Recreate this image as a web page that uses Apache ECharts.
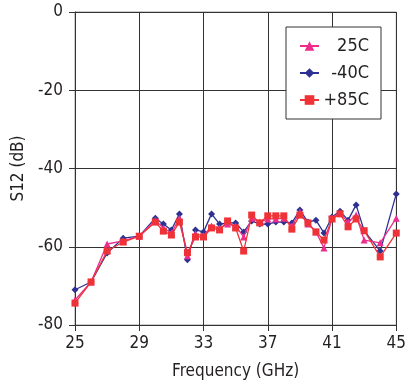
<!DOCTYPE html>
<html><head><meta charset="utf-8">
<script src="https://cdn.jsdelivr.net/npm/echarts@6/dist/echarts.min.js"></script>
<style>html,body{margin:0;padding:0;background:#fff}#c{width:409px;height:391px}</style>
</head><body><div id="c"></div>
<script>
const freq = [25,26,27,28,29,30,30.5,31,31.5,32,32.5,33,33.5,34,34.5,35,35.5,36,36.5,37,37.5,38,38.5,39,39.5,40,40.5,41,41.5,42,42.5,43,44,45];
const s25 = [-73.6,-69.0,-59.3,-58.5,-57.3,-53.2,-55.2,-56.5,-52.7,-62.3,-56.7,-57.2,-54.7,-55.2,-54.2,-54.7,-57.5,-52.7,-53.7,-52.9,-52.9,-52.7,-54.7,-51.1,-54.2,-56.2,-60.3,-52.7,-51.4,-53.7,-51.9,-58.3,-59.0,-52.7];
const sM40 = [-71.0,-69.0,-61.6,-57.8,-57.3,-52.7,-54.2,-55.7,-51.6,-63.3,-55.7,-56.2,-51.6,-54.2,-53.9,-53.9,-56.2,-53.4,-54.2,-54.2,-53.7,-53.7,-53.9,-50.6,-53.7,-53.2,-56.5,-52.4,-50.9,-53.2,-49.3,-55.9,-61.1,-46.5];
const s85 = [-74.4,-69.0,-61.1,-58.8,-57.3,-53.7,-56.0,-57.0,-53.7,-61.5,-57.5,-57.5,-55.2,-55.7,-53.4,-55.2,-61.1,-51.9,-53.9,-52.1,-52.1,-52.1,-55.5,-51.9,-53.9,-56.2,-58.3,-52.9,-51.6,-54.9,-52.9,-55.9,-62.6,-56.5];
const xTicks = [25,29,33,37,41,45];
const yTicks = [-80,-60,-40,-20,0];
const names = ['25C','-40C','+85C'];

const pairs = arr => freq.map((f,i)=>[f,arr[i]]);
const FONT = '"Liberation Sans Narrow","DejaVu Sans Condensed","Liberation Sans",sans-serif';
const chart = echarts.init(document.getElementById('c'), null, {renderer:'canvas'});
chart.setOption({
  animation:false,
  backgroundColor:'#fff',
  grid:{left:75,right:11,top:12,bottom:66,show:true,borderColor:'#9a9a9a',borderWidth:1},
  legend:{
    data:names, orient:'vertical', left:286, top:27,
    backgroundColor:'#fff', borderColor:'#333', borderWidth:1,
    padding:[10,12,10,13], itemGap:9, itemWidth:19, itemHeight:12,
    formatter: n => '{t|' + n + '}',
    textStyle:{fontFamily:FONT,fontSize:18,color:'#231f20',
      rich:{t:{fontFamily:FONT,fontSize:18,color:'#231f20',width:45,align:'right'}}}
  },
  xAxis:{
    type:'value', min:xTicks[0], max:xTicks[xTicks.length-1], interval:4,
    name:'Frequency (GHz)', nameLocation:'middle', nameGap:38,
    nameTextStyle:{fontFamily:FONT,fontSize:17,color:'#231f20'},
    axisLine:{show:true,onZero:false,lineStyle:{color:'#333',width:1}},
    axisTick:{show:true,length:6,lineStyle:{color:'#333'}},
    axisLabel:{fontFamily:FONT,fontSize:17,color:'#231f20',margin:10},
    splitLine:{show:true,lineStyle:{color:'#333',width:1}}
  },
  yAxis:{
    type:'value', min:yTicks[0], max:yTicks[yTicks.length-1], interval:20,
    name:'S12 (dB)', nameLocation:'middle', nameGap:45,
    nameTextStyle:{fontFamily:FONT,fontSize:17,color:'#231f20'},
    axisLine:{show:true,onZero:false,lineStyle:{color:'#333',width:1}},
    axisTick:{show:true,length:6,lineStyle:{color:'#333'}},
    axisLabel:{fontFamily:FONT,fontSize:17,color:'#231f20',margin:12},
    splitLine:{show:true,lineStyle:{color:'#333',width:1}}
  },
  series:[
    {name:names[1],type:'line',data:pairs(sM40),symbol:'diamond',symbolSize:7,
     itemStyle:{color:'#2e3192'},lineStyle:{color:'#2e3192',width:1.3},z:2},
    {name:names[0],type:'line',data:pairs(s25),symbol:'triangle',symbolSize:7,
     itemStyle:{color:'#ec2d8c'},lineStyle:{color:'#ec2d8c',width:1.3},z:3},
    {name:names[2],type:'line',data:pairs(s85),symbol:'rect',symbolSize:7,
     itemStyle:{color:'#ee3237'},lineStyle:{color:'#ee3237',width:1.3},z:4}
  ]
});
</script></body></html>
